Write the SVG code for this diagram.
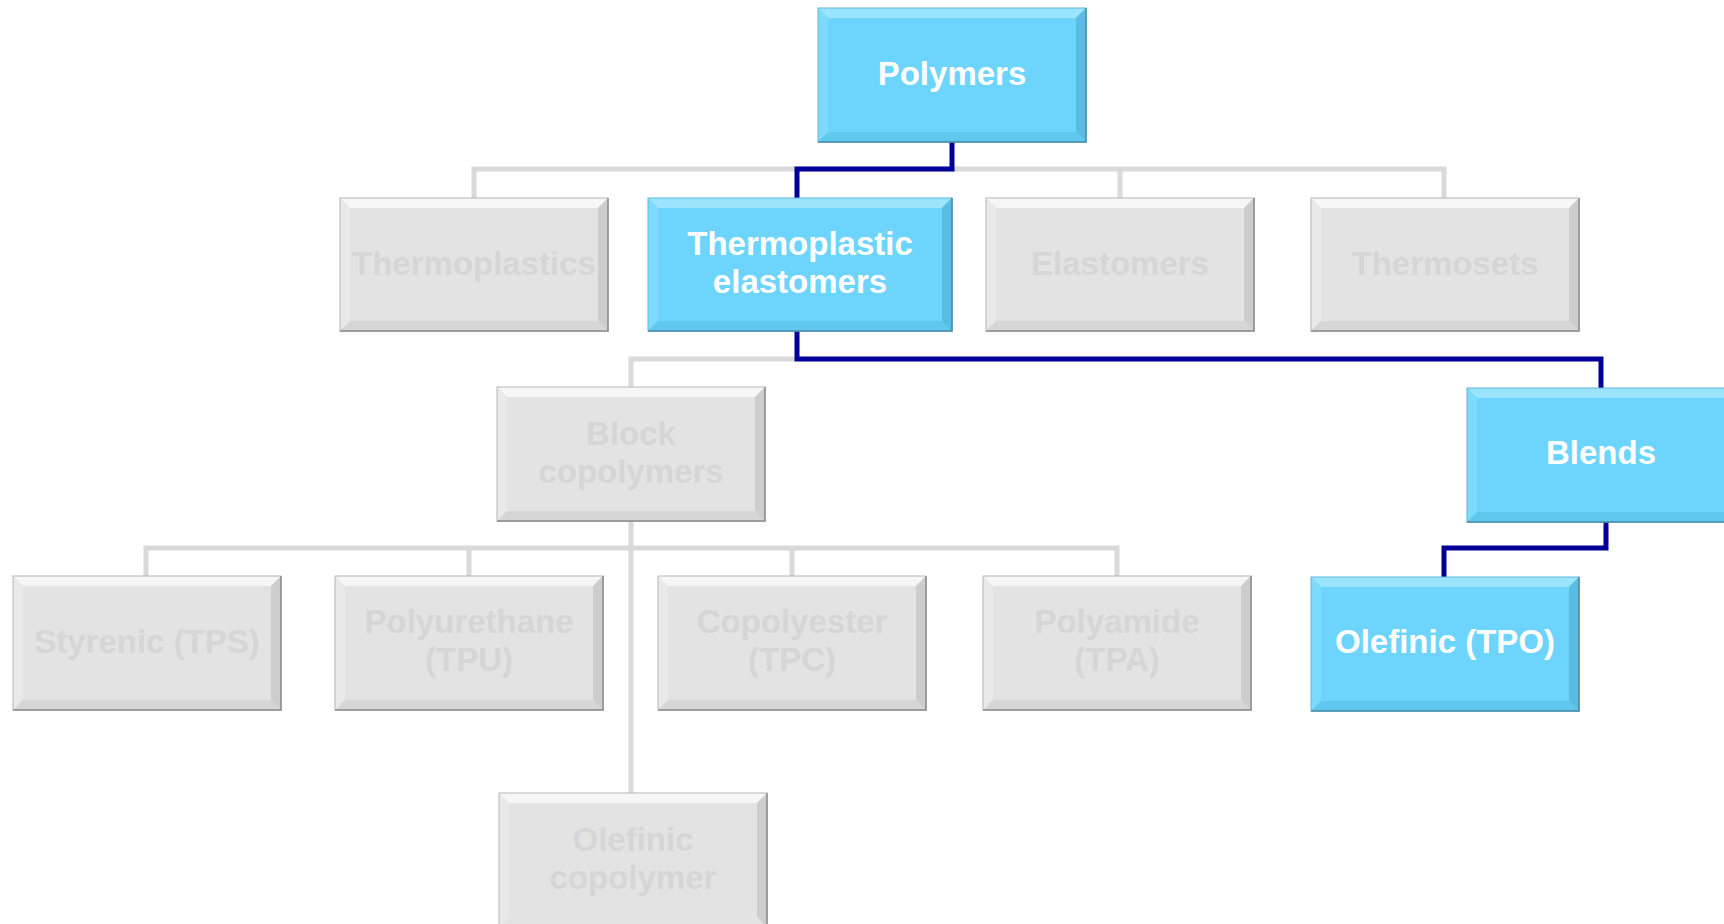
<svg xmlns="http://www.w3.org/2000/svg" width="1724" height="924" viewBox="0 0 1724 924">
<defs>
<style>
.g .f{fill:#E3E3E3}.g .t{fill:#F6F6F6}.g .l{fill:#E9E9E9}.g .b{fill:#D6D6D6}.g .r{fill:#CDCDCD}.g .o{fill:none;stroke:#B5B5B5;stroke-width:1}.g .s{fill:none;stroke:#8C8C8C;stroke-width:1.5}
.bl .f{fill:#6DD5FD}.bl .t{fill:#9BE4FE}.bl .l{fill:#7DDAFD}.bl .b{fill:#60C7EE}.bl .r{fill:#58BCE3}.bl .o{fill:none;stroke:#62B5D6;stroke-width:1}.bl .s{fill:none;stroke:#4A8AA8;stroke-width:1.5}
text{font-family:"Liberation Sans",Arial,sans-serif;font-weight:700;font-size:33px;text-anchor:middle;dominant-baseline:central}
.g text{fill:#D6D6D6}.bl text{fill:#FFFFFF}
.cg{fill:none;stroke:#D9D9D9;stroke-width:5;stroke-linejoin:miter}
.cb{fill:none;stroke:#000099;stroke-width:5;stroke-linejoin:miter}
</style>
</defs>
<rect width="1724" height="924" fill="#FFFFFF"/>
<g id="connectors">
<path class="cg" d="M474 198V169H1444V198M1120 169V198"/>
<path class="cg" d="M631 387V359H797"/>
<path class="cg" d="M631 521V793M146 576V548H1117V576M469 548V576M792 548V576"/>
<path class="cb" d="M952 142V169H797V198"/>
<path class="cb" d="M797 331V359H1601V388"/>
<path class="cb" d="M1606 522V548H1444V577"/>
</g>
<g id="polymers" class="bl">
<rect class="f" x="818" y="8" width="268" height="134"/>
<polygon class="t" points="818,8 1086,8 1076,18 828,18"/>
<polygon class="l" points="818,8 828,18 828,132 818,142"/>
<polygon class="b" points="818,142 828,132 1076,132 1086,142"/>
<polygon class="r" points="1086,8 1086,142 1076,132 1076,18"/>
<rect class="o" x="818" y="8" width="268" height="134"/>
<path class="s" d="M1086 8V142H818"/>
<text x="952" y="73">Polymers</text>
</g>
<g id="thermoplastics" class="g">
<rect class="f" x="340" y="198" width="268" height="133"/>
<polygon class="t" points="340,198 608,198 598,208 350,208"/>
<polygon class="l" points="340,198 350,208 350,321 340,331"/>
<polygon class="b" points="340,331 350,321 598,321 608,331"/>
<polygon class="r" points="608,198 608,331 598,321 598,208"/>
<rect class="o" x="340" y="198" width="268" height="133"/>
<path class="s" d="M608 198V331H340"/>
<text x="474" y="263">Thermoplastics</text>
</g>
<g id="tpe" class="bl">
<rect class="f" x="648" y="198" width="304" height="133"/>
<polygon class="t" points="648,198 952,198 942,208 658,208"/>
<polygon class="l" points="648,198 658,208 658,321 648,331"/>
<polygon class="b" points="648,331 658,321 942,321 952,331"/>
<polygon class="r" points="952,198 952,331 942,321 942,208"/>
<rect class="o" x="648" y="198" width="304" height="133"/>
<path class="s" d="M952 198V331H648"/>
<text x="800" y="243">Thermoplastic<tspan x="800" dy="38">elastomers</tspan></text>
</g>
<g id="elastomers" class="g">
<rect class="f" x="986" y="198" width="268" height="133"/>
<polygon class="t" points="986,198 1254,198 1244,208 996,208"/>
<polygon class="l" points="986,198 996,208 996,321 986,331"/>
<polygon class="b" points="986,331 996,321 1244,321 1254,331"/>
<polygon class="r" points="1254,198 1254,331 1244,321 1244,208"/>
<rect class="o" x="986" y="198" width="268" height="133"/>
<path class="s" d="M1254 198V331H986"/>
<text x="1120" y="263">Elastomers</text>
</g>
<g id="thermosets" class="g">
<rect class="f" x="1311" y="198" width="268" height="133"/>
<polygon class="t" points="1311,198 1579,198 1569,208 1321,208"/>
<polygon class="l" points="1311,198 1321,208 1321,321 1311,331"/>
<polygon class="b" points="1311,331 1321,321 1569,321 1579,331"/>
<polygon class="r" points="1579,198 1579,331 1569,321 1569,208"/>
<rect class="o" x="1311" y="198" width="268" height="133"/>
<path class="s" d="M1579 198V331H1311"/>
<text x="1445" y="263">Thermosets</text>
</g>
<g id="block" class="g">
<rect class="f" x="497" y="387" width="268" height="134"/>
<polygon class="t" points="497,387 765,387 755,397 507,397"/>
<polygon class="l" points="497,387 507,397 507,511 497,521"/>
<polygon class="b" points="497,521 507,511 755,511 765,521"/>
<polygon class="r" points="765,387 765,521 755,511 755,397"/>
<rect class="o" x="497" y="387" width="268" height="134"/>
<path class="s" d="M765 387V521H497"/>
<text x="631" y="433">Block<tspan x="631" dy="38">copolymers</tspan></text>
</g>
<g id="blends" class="bl">
<rect class="f" x="1467" y="388" width="268" height="134"/>
<polygon class="t" points="1467,388 1735,388 1725,398 1477,398"/>
<polygon class="l" points="1467,388 1477,398 1477,512 1467,522"/>
<polygon class="b" points="1467,522 1477,512 1725,512 1735,522"/>
<rect class="o" x="1467" y="388" width="268" height="134"/>
<path class="s" d="M1467 522H1735"/>
<text x="1601" y="452">Blends</text>
</g>
<g id="styrenic" class="g">
<rect class="f" x="13" y="576" width="268" height="134"/>
<polygon class="t" points="13,576 281,576 271,586 23,586"/>
<polygon class="l" points="13,576 23,586 23,700 13,710"/>
<polygon class="b" points="13,710 23,700 271,700 281,710"/>
<polygon class="r" points="281,576 281,710 271,700 271,586"/>
<rect class="o" x="13" y="576" width="268" height="134"/>
<path class="s" d="M281 576V710H13"/>
<text x="147" y="641">Styrenic (TPS)</text>
</g>
<g id="polyurethane" class="g">
<rect class="f" x="335" y="576" width="268" height="134"/>
<polygon class="t" points="335,576 603,576 593,586 345,586"/>
<polygon class="l" points="335,576 345,586 345,700 335,710"/>
<polygon class="b" points="335,710 345,700 593,700 603,710"/>
<polygon class="r" points="603,576 603,710 593,700 593,586"/>
<rect class="o" x="335" y="576" width="268" height="134"/>
<path class="s" d="M603 576V710H335"/>
<text x="469" y="621">Polyurethane<tspan x="469" dy="38">(TPU)</tspan></text>
</g>
<g id="copolyester" class="g">
<rect class="f" x="658" y="576" width="268" height="134"/>
<polygon class="t" points="658,576 926,576 916,586 668,586"/>
<polygon class="l" points="658,576 668,586 668,700 658,710"/>
<polygon class="b" points="658,710 668,700 916,700 926,710"/>
<polygon class="r" points="926,576 926,710 916,700 916,586"/>
<rect class="o" x="658" y="576" width="268" height="134"/>
<path class="s" d="M926 576V710H658"/>
<text x="792" y="621">Copolyester<tspan x="792" dy="38">(TPC)</tspan></text>
</g>
<g id="polyamide" class="g">
<rect class="f" x="983" y="576" width="268" height="134"/>
<polygon class="t" points="983,576 1251,576 1241,586 993,586"/>
<polygon class="l" points="983,576 993,586 993,700 983,710"/>
<polygon class="b" points="983,710 993,700 1241,700 1251,710"/>
<polygon class="r" points="1251,576 1251,710 1241,700 1241,586"/>
<rect class="o" x="983" y="576" width="268" height="134"/>
<path class="s" d="M1251 576V710H983"/>
<text x="1117" y="621">Polyamide<tspan x="1117" dy="38">(TPA)</tspan></text>
</g>
<g id="tpo" class="bl">
<rect class="f" x="1311" y="577" width="268" height="134"/>
<polygon class="t" points="1311,577 1579,577 1569,587 1321,587"/>
<polygon class="l" points="1311,577 1321,587 1321,701 1311,711"/>
<polygon class="b" points="1311,711 1321,701 1569,701 1579,711"/>
<polygon class="r" points="1579,577 1579,711 1569,701 1569,587"/>
<rect class="o" x="1311" y="577" width="268" height="134"/>
<path class="s" d="M1579 577V711H1311"/>
<text x="1445" y="641">Olefinic (TPO)</text>
</g>
<g id="olefinic-copolymer" class="g">
<rect class="f" x="499" y="793" width="268" height="134"/>
<polygon class="t" points="499,793 767,793 757,803 509,803"/>
<polygon class="l" points="499,793 509,803 509,917 499,927"/>
<polygon class="r" points="767,793 767,927 757,917 757,803"/>
<rect class="o" x="499" y="793" width="268" height="134"/>
<path class="s" d="M767 793V927"/>
<text x="633" y="839">Olefinic<tspan x="633" dy="38">copolymer</tspan></text>
</g>
</svg>
